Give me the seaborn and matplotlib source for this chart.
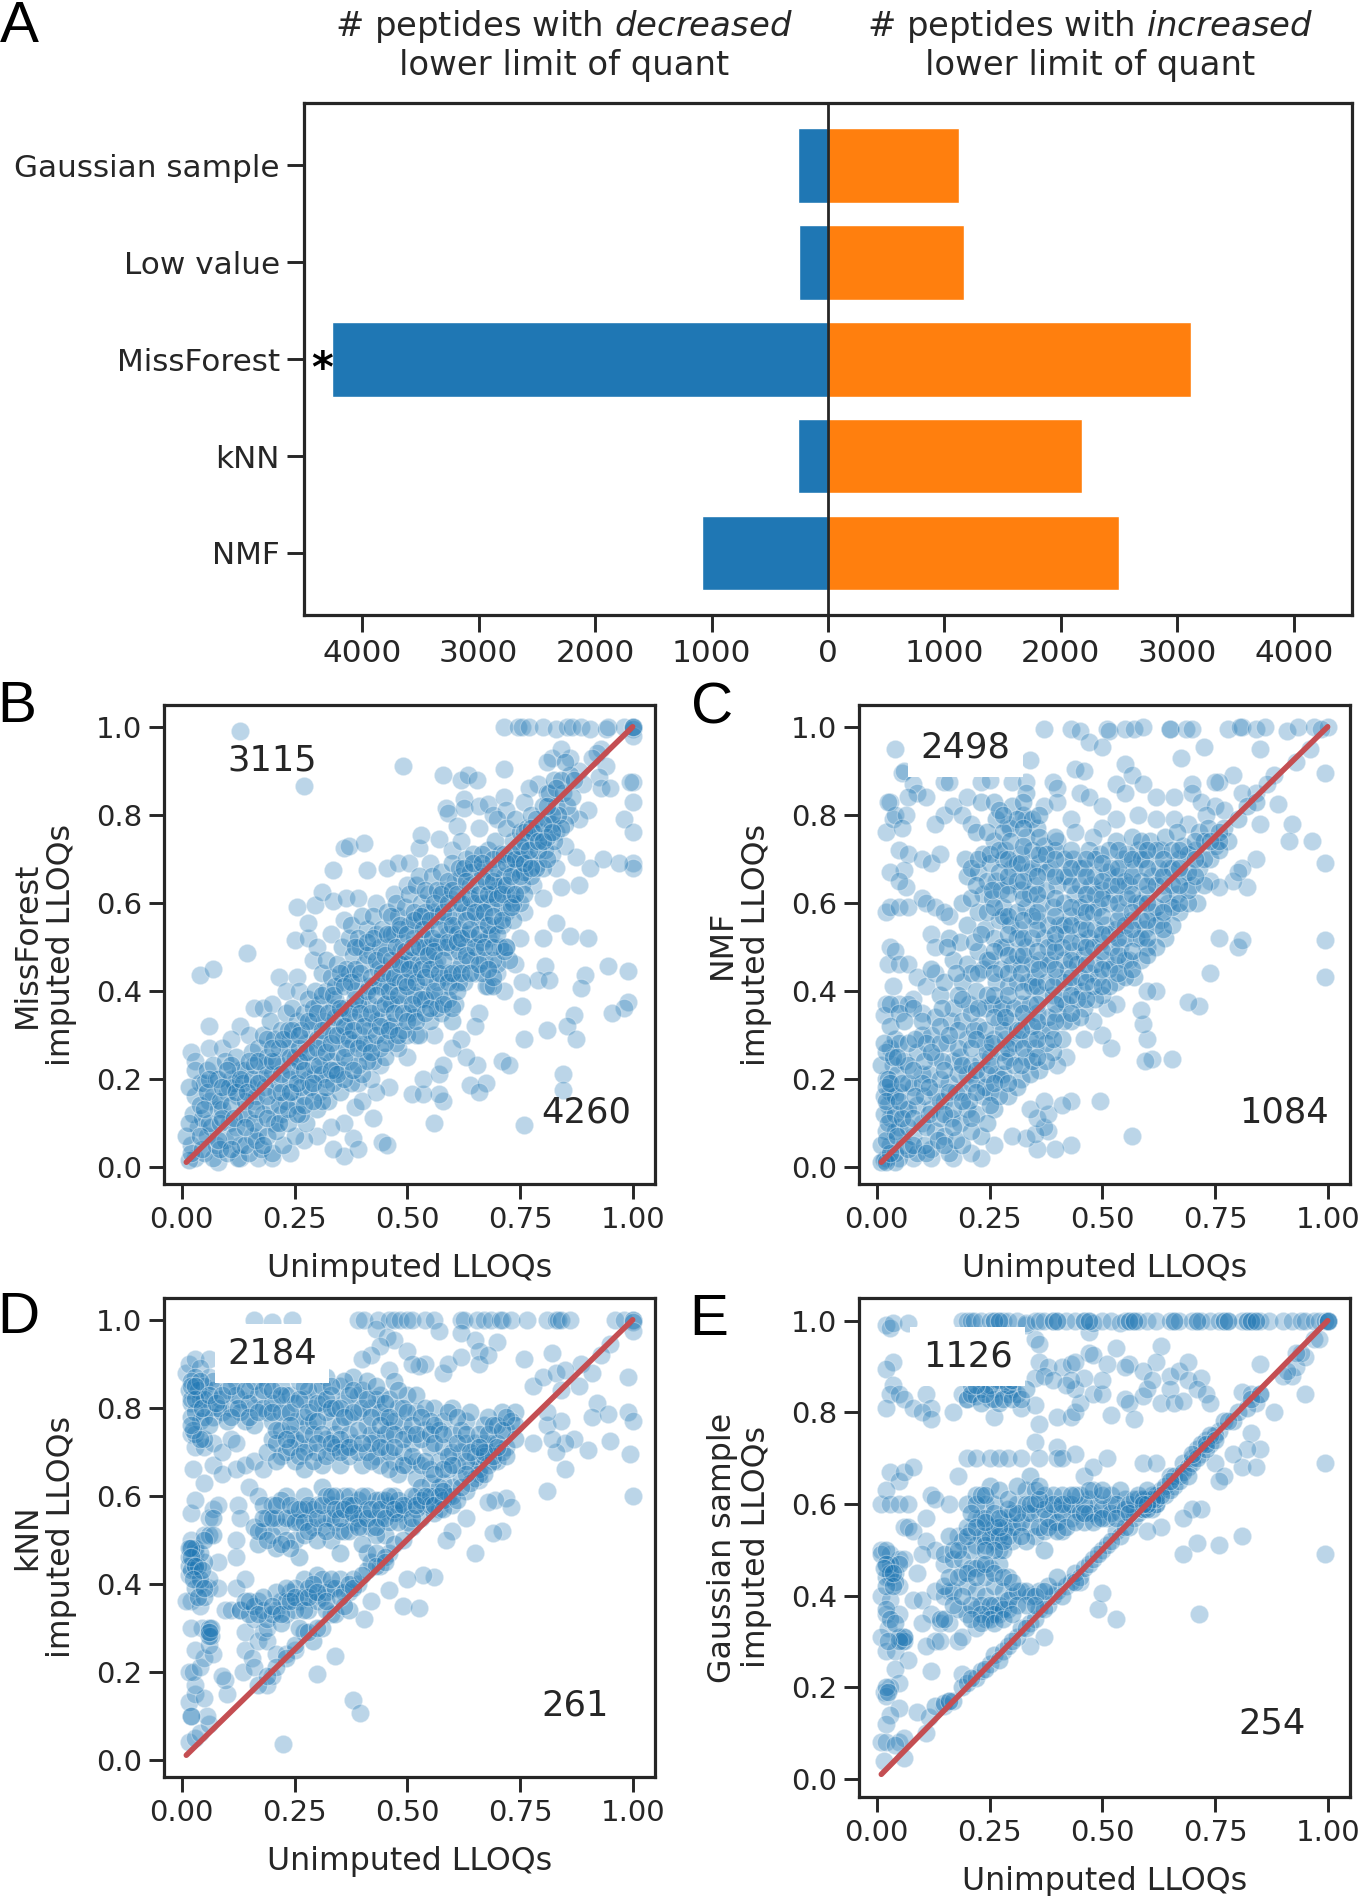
import seaborn as sns
import matplotlib.pyplot as plt

sns.set_style('ticks')
plt.rcParams['font.family'] = ['DejaVu Sans']
plt.rcParams['mathtext.fontset'] = 'dejavusans'
plt.rcParams['text.color'] = '.15'
plt.rcParams['axes.labelcolor'] = '.15'

W, H = 1359, 1896

# Panel A
methods = ['Gaussian sample', 'Low value', 'MissForest', 'kNN', 'NMF']
decreased = [254, 245, 4260, 261, 1084]
increased = [1126, 1170, 3115, 2184, 2498]
a_ticks = [-4000, -3000, -2000, -1000, 0, 1000, 2000, 3000, 4000]
a_ticklabels = ['4000', '3000', '2000', '1000', '0', '1000', '2000', '3000', '4000']

# Scatter panels: x,y pairs.
top_b = [.715,1, .745,1, .755,1, .77,1, .80,1, .83,.995, .855,1, .865,1, .885,1, .905,.995, .94,.995, .945,1, .98,1, 1,1, 1,.995, 1,.98, 1,1, 1,1]
b_sparse = [.13,.99, .27,.865, .49,.91, .58,.89, .62,.88, .635,.89, .655,.88, .715,.905, 1,.875, .995,.875, 1,.83, .98,.79, 1,.76, 1,.69, 1,.68, .97,.69, .935,.70, .905,.68, .875,.705, .88,.64, .84,.635, .83,.555, .8,.52, .86,.525, .9,.52, .945,.455, .99,.445, .895,.435, .885,.405, .805,.455, .79,.425, .815,.425, .755,.42, .715,.40, .755,.365, .87,.345, .855,.32, .81,.31, .875,.29, .76,.29, .99,.375, .98,.36, .955,.35, .845,.21, .845,.175, .76,.095, .56,.10, .58,.15, .57,.165, .51,.165, .535,.165, .46,.18, .535,.20, .57,.21, .64,.185, .675,.19, .66,.17, .655,.23, .71,.24, .725,.23,
    .425,.11, .445,.055, .455,.05, .38,.065, .36,.025, .39,.04, .335,.04, .385,.135, .40,.15, .43,.17, .04,.435, .07,.45, .145,.485, .06,.32, .13,.32, .16,.36, .215,.43, .255,.43, .25,.515, .28,.52, .28,.555, .255,.59, .295,.595, .31,.625, .335,.605, .365,.61, .39,.61, .335,.675, .36,.725, .37,.73, .405,.735, .41,.675, .455,.68, .48,.69, .505,.69, .525,.725, .53,.755, .57,.745, .585,.815, .59,.805, .61,.775, .625,.835, .625,.815, .66,.82, .68,.825, .69,.80, .715,.84, .72,.81,
    .93,.95, .92,.94, .94,.91, .925,.885, .93,.86, .95,.86, .91,.93, .89,.87, .88,.90, .86,.93, .82,.93, .84,.95, .81,.92, .79,.87, .77,.86, .81,.85, .76,.83, .9,.81, .88,.79, .86,.8, .83,.76, .85,.73, .82,.71, .79,.69, .83,.68, .78,.64, .8,.61, .76,.58, .73,.61, .75,.52, .72,.5, .74,.46, .7,.44, .68,.41, .66,.35, .65,.32, .62,.29, .6,.27, .63,.25, .58,.23, .56,.3, .52,.3, .5,.25, .48,.27, .44,.23, .42,.2, .39,.19, .36,.1, .33,.09, .3,.07, .27,.06, .24,.03, .2,.02, .17,.02, .13,.02, .08,.01,
    .02,.26, .03,.24, .06,.27, .09,.27, .11,.29, .15,.3, .18,.36, .2,.37, .23,.4, .26,.4, .29,.47, .3,.5, .33,.53, .36,.56, .43,.6, .47,.62, .5,.64, .55,.69, .6,.72, .62,.74, .66,.77, .7,.79]
b_dense = [.03,.02, .02,.05, .035,.09, .025,.12, .03,.16, .04,.19, .03,.22, .05,.03, .055,.07, .045,.11, .06,.15, .05,.19, .055,.22,
    .07,.02, .075,.05, .065,.09, .08,.13, .07,.16, .075,.2, .07,.23, .10,.03, .095,.06, .105,.1, .09,.13, .1,.17, .11,.2, .095,.24,
    .125,.02, .13,.05, .12,.09, .135,.12, .125,.16, .115,.19, .13,.22, .12,.25, .15,.03, .155,.07, .145,.11, .16,.15, .15,.18, .14,.22, .155,.26,
    .175,.04, .17,.08, .18,.12, .165,.16, .175,.2, .185,.23, .17,.27, .18,.3, .2,.03, .205,.1, .195,.14, .21,.17, .2,.21, .19,.25, .205,.29, .195,.33,
    .225,.05, .22,.12, .23,.15, .215,.19, .225,.23, .235,.27, .22,.31, .23,.35, .25,.07, .255,.14, .245,.17, .26,.21, .25,.25, .24,.29, .255,.33, .245,.36,
    .275,.1, .27,.16, .28,.2, .265,.24, .275,.28, .285,.31, .27,.35, .28,.38, .3,.13, .305,.17, .295,.21, .31,.25, .3,.29, .29,.33, .305,.37, .295,.4, .31,.44,
    .325,.15, .32,.2, .33,.24, .315,.28, .325,.32, .335,.36, .32,.4, .33,.43, .32,.47, .35,.17, .355,.22, .345,.26, .36,.3, .35,.34, .34,.38, .355,.42, .345,.46, .355,.5,
    .375,.19, .37,.24, .38,.28, .365,.32, .375,.36, .385,.4, .37,.44, .38,.48, .37,.52, .375,.55, .4,.21, .405,.26, .395,.3, .41,.34, .4,.38, .39,.42, .405,.46, .395,.5, .41,.54, .4,.57,
    .425,.24, .42,.28, .43,.33, .415,.37, .425,.41, .435,.45, .42,.49, .43,.53, .425,.57, .45,.25, .455,.3, .445,.34, .46,.38, .45,.42, .44,.46, .455,.5, .445,.54, .455,.58,
    .475,.28, .47,.33, .48,.37, .465,.41, .475,.45, .485,.49, .47,.53, .48,.57, .475,.6, .5,.3, .505,.35, .495,.39, .51,.43, .5,.47, .49,.51, .505,.55, .495,.59, .505,.62,
    .525,.3, .52,.36, .53,.4, .515,.44, .525,.48, .535,.52, .52,.56, .53,.6, .52,.64, .525,.66, .55,.33, .555,.38, .545,.42, .56,.46, .55,.5, .54,.54, .555,.58, .545,.62, .555,.66,
    .575,.35, .57,.39, .58,.43, .565,.47, .575,.51, .585,.55, .57,.59, .58,.63, .575,.67, .6,.33, .605,.37, .595,.41, .61,.45, .6,.49, .59,.53, .605,.57, .595,.61, .605,.65, .6,.69,
    .625,.42, .62,.46, .63,.5, .615,.54, .625,.58, .635,.62, .62,.66, .63,.7, .65,.44, .655,.48, .645,.52, .66,.56, .65,.6, .64,.64, .655,.68, .645,.71,
    .675,.41, .67,.47, .68,.52, .665,.56, .675,.6, .685,.64, .67,.68, .68,.72, .7,.46, .705,.5, .695,.55, .71,.59, .7,.63, .69,.67, .705,.71, .695,.74,
    .725,.47, .72,.58, .73,.62, .715,.66, .725,.7, .735,.74, .72,.77, .75,.6, .755,.64, .745,.68, .76,.72, .75,.76, .74,.79,
    .775,.66, .77,.7, .78,.74, .765,.77, .775,.8, .8,.68, .805,.72, .795,.76, .81,.79, .8,.82, .825,.74, .82,.78, .83,.82, .815,.85, .825,.88, .85,.78, .855,.82, .845,.85, .86,.89, .85,.92]
b_fill = [.015,.015, .02,.03, .01,.07, .015,.1, .045,.04, .04,.14, .015,.18, .06,.1, .055,.17, .085,.04, .085,.1, .085,.15, .08,.2, .115,.07, .11,.14, .105,.18, .11,.23, .14,.05, .14,.15, .135,.19, .165,.06, .16,.1, .155,.2, .16,.23, .19,.07, .185,.18, .19,.21, .19,.29, .21,.08, .215,.14, .21,.24, .215,.27, .235,.1, .24,.2, .24,.25, .235,.31, .265,.12, .265,.18, .26,.27, .265,.31, .285,.18, .29,.23, .285,.26, .29,.36,
    .31,.15, .31,.21, .315,.33, .31,.39, .335,.19, .34,.22, .335,.3, .34,.34, .34,.41, .36,.2, .365,.27, .36,.36, .365,.45, .39,.23, .385,.33, .39,.37, .385,.45, .39,.52, .41,.24, .415,.31, .415,.41, .41,.48, .44,.27, .44,.36, .44,.41, .44,.5, .465,.32, .465,.37, .46,.44, .465,.53, .465,.57, .49,.31, .485,.42, .49,.46, .485,.54, .515,.34, .515,.39, .51,.47, .515,.52, .515,.58, .54,.38, .535,.46, .54,.5, .54,.58, .54,.63, .565,.36, .565,.42, .565,.51, .565,.57, .565,.63,
    .59,.38, .59,.44, .585,.5, .59,.57, .59,.65, .615,.42, .615,.49, .61,.53, .615,.6, .615,.68, .64,.47, .635,.53, .64,.58, .64,.67, .665,.44, .665,.51, .665,.6, .665,.66, .665,.71, .69,.47, .685,.53, .685,.59, .69,.62, .69,.7, .715,.49, .71,.55, .71,.64, .715,.71, .735,.56, .735,.6, .735,.67, .735,.71, .76,.62, .76,.67, .76,.76, .785,.68, .79,.72, .785,.79, .81,.75, .81,.7, .835,.8, .84,.77, .84,.88, .865,.84, .87,.88, .69,.41, .69,.43, .75,.7, .775,.77, .82,.8, .83,.86]
b_core = [.04,.07, .05,.13, .06,.2, .08,.06, .09,.11, .09,.18, .1,.22, .11,.04, .115,.11, .12,.17, .13,.2, .14,.09, .145,.17, .15,.24, .165,.13, .17,.19, .17,.24, .18,.05, .19,.11, .19,.16, .2,.24, .2,.27, .215,.1, .22,.17, .22,.21, .225,.29, .235,.13, .24,.17, .24,.22, .245,.31, .255,.12, .255,.19, .26,.24, .26,.3, .27,.14, .27,.22, .275,.26, .28,.33, .29,.15, .29,.19, .3,.27, .3,.35, .305,.23, .31,.31, .32,.18, .32,.26, .325,.35, .33,.22, .33,.28, .335,.39, .345,.21, .345,.3, .35,.36, .35,.44,
    .36,.25, .36,.32, .36,.41, .37,.29, .37,.35, .375,.42, .38,.22, .38,.31, .385,.38, .385,.5, .39,.27, .395,.35, .395,.44, .405,.28, .405,.32, .41,.4, .41,.51, .42,.26, .42,.35, .42,.43, .425,.52, .43,.3, .43,.39, .43,.47, .44,.32, .445,.44, .45,.28, .45,.37, .45,.48, .455,.53, .46,.31, .46,.4, .465,.47, .47,.35, .47,.43, .475,.5, .48,.3, .48,.39, .485,.46, .485,.55, .49,.35, .495,.42, .495,.49, .5,.33, .5,.41, .5,.53, .505,.45, .51,.37, .51,.5, .515,.56, .52,.33, .52,.42, .525,.5, .53,.38, .53,.45, .53,.57, .535,.54, .54,.35, .54,.43, .545,.48, .55,.36, .55,.45, .55,.56, .555,.52, .56,.4, .56,.49, .56,.6, .57,.44, .57,.54, .575,.62, .58,.37, .58,.47, .58,.58,
    .59,.42, .59,.51, .59,.6, .6,.36, .6,.44, .6,.55, .6,.63, .61,.4, .61,.51, .61,.62, .62,.44, .62,.52, .62,.6, .625,.68, .63,.48, .63,.56, .63,.65, .64,.44, .64,.54, .64,.61, .645,.69, .65,.5, .65,.58, .655,.64, .66,.46, .66,.53, .66,.62, .665,.69, .67,.5, .67,.58, .675,.65, .68,.45, .68,.55, .68,.62, .69,.5, .69,.57, .69,.65, .7,.53, .7,.61, .7,.68, .71,.56, .71,.62, .72,.5, .72,.64, .72,.69, .73,.59, .73,.66, .74,.62, .74,.7, .75,.66, .75,.73, .76,.69, .76,.74, .77,.72, .775,.68, .78,.76, .79,.74, .8,.78, .8,.74, .81,.82, .82,.76]

c_sparse = [.04,.95, .055,.895, .37,.995, .43,.995, .45,.99, .47,.965, .51,.995, .515,.99, .55,.995, .57,.995, .59,1, .65,.995, .65,.995, .685,.995, .7,.995, .78,.995, .81,1, .805,1, .84,.995, .86,1, .91,.99, .935,1, .97,1, 1,1, .985,.995, .5,.955, .34,.925, .675,.93, .725,.955, .85,.95, .96,.95, .93,.92, .44,.905, .46,.90, .55,.915, .565,.89, .84,.85, .79,.89,
    .76,.875, .75,.875, .88,.89, .865,.87, .81,.85, .89,.825, .85,.78, .92,.78, .915,.74, .965,.74, .995,.69, .84,.70, .82,.635, .81,.68, .79,.65, .74,.65, .76,.635, .8,.67, .995,.895, .995,.515, .995,.43, .80,.50, .81,.515, .76,.52, .74,.44, .715,.365, .69,.375, .62,.40, .6,.4, .655,.245, .61,.245, .595,.24, .6,.29, .59,.325, .585,.355, .495,.15, .565,.07, .43,.15, .43,.05, .395,.04, .355,.04, .33,.065, .3,.07, .38,.08, .35,.075, .37,.09, .355,.11, .38,.12, .41,.14, .34,.13, .37,.15,
    .52,.27, .46,.29, .5,.3, .48,.33, .51,.36, .53,.37, .42,.25, .40,.23, .26,.05, .23,.02, .21,.03, .17,.02, .12,.02, .08,.02, .025,.46, .03,.5, .04,.49, .02,.37, .015,.345, .035,.41, .02,.58, .03,.59, .05,.59, .065,.635, .07,.59, .02,.76, .03,.83, .035,.79, .04,.8, .025,.83, .06,.9, .08,.87, .09,.85, .11,.84, .07,.84, .065,.8, .055,.77, .05,.72, .07,.71, .10,.70, .12,.69, .14,.71, .06,.675, .03,.67, .05,.65, .1,.61, .11,.6, .13,.59, .16,.57, .12,.53, .13,.5, .15,.58, .05,.46, .07,.46, .09,.43, .11,.41, .13,.44, .08,.38, .1,.35, .05,.37, .07,.37,
    .15,.875, .16,.875, .23,.875, .25,.88, .3,.875, .33,.875, .39,.875, .4,.86, .15,.8, .13,.78, .17,.82, .2,.84, .19,.8, .21,.78, .37,.82, .4,.83, .43,.79, .45,.85, .47,.84, .5,.82, .53,.87, .55,.85, .59,.87, .62,.84, .66,.84, .7,.87, .7,.85, .72,.83, .69,.78, .66,.79, .75,.82, .77,.81, .73,.8, .62,.79, .58,.8, .53,.79, .5,.77, .48,.75, .44,.76, .4,.74, .33,.79, .29,.78]
c_dense = [.02,.02, .03,.05, .02,.08, .03,.11, .025,.14, .03,.17, .02,.2, .035,.23, .03,.27, .04,.29, .05,.02, .06,.05, .05,.09, .06,.13, .05,.17, .045,.21, .06,.24, .05,.28, .03,.37, .05,.35, .09,.03, .08,.07, .1,.1, .09,.14, .08,.18, .1,.21, .09,.26, .1,.3, .08,.36, .12,.04, .13,.08, .12,.13, .13,.17, .115,.21, .13,.25, .12,.3, .13,.34, .14,.39, .12,.45,
    .16,.03, .15,.07, .165,.11, .15,.15, .16,.19, .17,.24, .155,.28, .165,.33, .17,.36, .15,.42, .17,.47, .16,.52, .19,.05, .185,.1, .2,.13, .19,.17, .2,.21, .185,.25, .2,.29, .19,.33, .205,.37, .19,.42, .2,.46, .185,.51, .2,.55, .19,.6, .2,.66, .195,.7,
    .23,.07, .22,.12, .235,.16, .22,.2, .23,.24, .24,.28, .225,.32, .24,.36, .22,.4, .235,.45, .225,.49, .24,.54, .225,.58, .235,.62, .225,.67, .235,.71, .22,.76, .23,.83, .26,.13, .25,.17, .265,.21, .25,.25, .26,.29, .27,.33, .255,.37, .265,.42, .25,.47, .26,.52, .27,.56, .255,.61, .265,.65, .25,.69, .26,.74, .265,.79, .26,.83,
    .29,.16, .28,.21, .295,.25, .285,.29, .295,.33, .28,.37, .29,.41, .3,.46, .285,.5, .295,.55, .28,.59, .29,.64, .3,.68, .285,.72, .295,.77, .3,.82, .32,.2, .33,.25, .315,.29, .33,.33, .32,.37, .335,.42, .32,.46, .33,.5, .315,.54, .33,.59, .32,.63, .335,.67, .32,.71, .33,.75, .325,.8, .33,.85,
    .36,.22, .35,.27, .365,.31, .355,.35, .365,.39, .35,.43, .36,.47, .37,.52, .355,.56, .365,.6, .35,.64, .36,.69, .37,.73, .355,.77, .39,.26, .385,.31, .4,.35, .39,.39, .4,.43, .385,.47, .395,.51, .405,.55, .39,.59, .4,.64, .385,.68, .395,.72,
    .43,.33, .42,.37, .435,.41, .425,.45, .435,.49, .42,.53, .43,.57, .44,.62, .425,.66, .435,.7, .46,.36, .455,.4, .47,.44, .46,.48, .47,.52, .455,.56, .465,.6, .475,.64, .46,.68, .47,.72, .5,.39, .49,.43, .505,.47, .495,.51, .505,.55, .49,.59, .5,.63, .51,.67, .495,.71,
    .53,.42, .525,.46, .54,.5, .53,.54, .54,.58, .525,.62, .535,.66, .545,.7, .53,.74, .57,.43, .56,.47, .575,.52, .565,.56, .575,.6, .56,.64, .57,.68, .58,.72, .565,.75, .6,.5, .595,.54, .61,.58, .6,.62, .61,.66, .595,.7, .605,.74,
    .64,.52, .63,.56, .645,.6, .635,.64, .645,.68, .63,.72, .64,.75, .67,.58, .665,.62, .68,.66, .67,.7, .68,.73, .665,.76, .71,.6, .7,.64, .715,.68, .705,.72, .715,.76, .74,.7, .75,.73, .735,.77, .77,.77, .78,.74]
c_fill = [.015,.015, .01,.05, .015,.12, .015,.16, .01,.23, .02,.26, .04,.03, .04,.08, .04,.12, .04,.16, .025,.2, .02,.18, .07,.04, .07,.09, .07,.13, .07,.19, .07,.23, .07,.28, .03,.32, .06,.33, .105,.05, .11,.09, .105,.16, .1,.19, .105,.24, .11,.28, .1,.33, .135,.06, .14,.11, .14,.15, .14,.2, .145,.24, .14,.28, .14,.32, .145,.36, .175,.06, .17,.13, .175,.17, .18,.21, .18,.27, .18,.31, .18,.39, .21,.08, .205,.15, .21,.19, .21,.23, .21,.27, .215,.31, .21,.35, .21,.44, .215,.51, .21,.61, .21,.68,
    .245,.1, .24,.18, .245,.21, .245,.26, .24,.31, .245,.39, .245,.47, .245,.58, .245,.65, .245,.76, .27,.16, .275,.2, .275,.26, .28,.31, .275,.36, .275,.45, .275,.5, .28,.57, .275,.63, .28,.7, .28,.76, .31,.18, .305,.23, .305,.28, .31,.31, .305,.36, .31,.42, .31,.48, .31,.52, .31,.58, .31,.65, .31,.69, .31,.79, .34,.21, .345,.24, .34,.29, .345,.32, .34,.37, .345,.41, .345,.46, .345,.52, .345,.57, .34,.62, .345,.68, .345,.72, .345,.79,
    .375,.24, .375,.28, .38,.34, .375,.42, .38,.46, .38,.5, .38,.55, .375,.63, .375,.67, .375,.71, .41,.29, .415,.33, .41,.38, .415,.42, .415,.47, .41,.5, .415,.55, .415,.6, .415,.66, .415,.7, .45,.34, .445,.38, .45,.43, .445,.46, .45,.51, .45,.54, .45,.59, .45,.64, .45,.68, .485,.38, .48,.41, .485,.46, .48,.5, .485,.54, .48,.58, .485,.62, .485,.66, .485,.7, .515,.41, .515,.45, .52,.5, .515,.53, .515,.6, .52,.64, .52,.68, .515,.72, .55,.43, .55,.47, .55,.52, .55,.55, .555,.61, .55,.65, .555,.71,
    .585,.47, .585,.52, .585,.56, .585,.6, .585,.65, .585,.7, .585,.74, .62,.5, .62,.55, .62,.59, .62,.64, .625,.68, .62,.72, .655,.55, .655,.59, .655,.64, .655,.68, .655,.72, .69,.6, .69,.63, .69,.67, .69,.71, .725,.64, .725,.7, .725,.74, .76,.72, .76,.76, .8,.79, .82,.82, .84,.83, .04,.01, .01,.01, .02,.01, .03,.03]
c_core = [.02,.06, .025,.1, .02,.15, .03,.19, .035,.25, .015,.28, .045,.07, .055,.11, .05,.15, .055,.19, .045,.25, .08,.05, .08,.11, .085,.16, .08,.22, .085,.29, .11,.03, .115,.12, .115,.18, .12,.26, .15,.05, .15,.12, .16,.17, .15,.22, .16,.3, .17,.09, .19,.15, .19,.23, .19,.38, .175,.44, .155,.5, .21,.11, .22,.17, .22,.22, .22,.29, .225,.36, .225,.44, .23,.53, .22,.64, .225,.7, .25,.14, .26,.19, .25,.23, .255,.28, .26,.34, .26,.39, .26,.44, .26,.49, .26,.59, .255,.63, .25,.71, .27,.67, .27,.72, .27,.81,
    .29,.19, .285,.24, .29,.27, .285,.34, .29,.39, .29,.44, .29,.48, .29,.53, .29,.57, .29,.62, .29,.66, .29,.7, .295,.74, .28,.8, .32,.23, .325,.27, .32,.31, .325,.35, .325,.4, .32,.44, .325,.48, .325,.52, .325,.56, .325,.61, .325,.65, .32,.69, .325,.73, .325,.77, .325,.83, .355,.25, .355,.29, .355,.33, .355,.37, .355,.41, .36,.45, .355,.49, .355,.54, .355,.58, .355,.62, .355,.66, .36,.71, .36,.75, .36,.8, .39,.29, .395,.33, .395,.37, .39,.41, .395,.45, .395,.49, .395,.53, .395,.57, .395,.61, .395,.66, .395,.7, .395,.75,
    .43,.35, .43,.39, .43,.43, .43,.47, .43,.51, .43,.55, .43,.59, .43,.64, .43,.68, .43,.72, .465,.38, .465,.42, .465,.46, .465,.5, .465,.54, .465,.58, .465,.62, .465,.66, .465,.7, .5,.41, .5,.45, .5,.49, .5,.53, .5,.57, .5,.61, .5,.65, .5,.69, .535,.44, .535,.48, .535,.52, .535,.56, .535,.6, .535,.64, .535,.68, .535,.72, .565,.45, .565,.49, .565,.54, .565,.58, .565,.62, .565,.66, .565,.7, .6,.48, .6,.52, .6,.56, .6,.6, .6,.64, .6,.68, .6,.72, .635,.54, .635,.58, .635,.62, .635,.66, .635,.7, .67,.6, .67,.64, .67,.68, .67,.72, .705,.66, .705,.7, .705,.74, .74,.74, .76,.74]

d_sparse = [.16,1, .2,.995, .245,1, .39,1, .405,1, .435,1, .46,1, .47,1, .485,1, .5,1, .51,1, .54,1, .56,1, .62,1, .625,1, .655,1, .67,1, .685,1, .705,1, .71,1, .73,1, .765,1, .81,1, .83,1, .835,1, .84,1, .86,1, .96,1, .98,1, 1,1, 1,1, 1,.995, 1,.975, .43,.98, .455,.96, .47,.955, .57,.975, .62,.97, .65,.955, .70,.95, .66,.93, .50,.93, .54,.9, .525,.895, .44,.94, .42,.92, .40,.91, .46,.885, .51,.9, .58,.88, .59,.9, .62,.915, .66,.9, .68,.92, .76,.91, .82,.925, .95,.945, .93,.92, .885,.9, .91,.88, .99,.87, .88,.85, .99,.79, 1,.77, .92,.81, .91,.78, .945,.785, .95,.725, .9,.705, .995,.695, .87,.73, .85,.66, .81,.61, 1,.6, .72,.595, .695,.59, .68,.585, .73,.575, .66,.635, .63,.55, .60,.52, .585,.5, .71,.52, .69,.515, .65,.47, .56,.415, .535,.42, .5,.41, .49,.35, .525,.345, .46,.385, .42,.36, .405,.32, .34,.235, .30,.195, .38,.135, .395,.105, .225,.035,
    .78,.85, .8,.87, .83,.88, .85,.885, .84,.84, .81,.76, .84,.77, .85,.72, .83,.7, .82,.73, .78,.72, .81,.79, .015,.04, .03,.05, .04,.06, .06,.08, .055,.1, .02,.1, .015,.13, .03,.15, .05,.14, .1,.15, .095,.18, .09,.19, .03,.17, .015,.2, .025,.2, .04,.21, .05,.23, .07,.24, .03,.25, .06,.26, .045,.3, .06,.29, .02,.3, .02,.36, .01,.36, .04,.35, .06,.39, .08,.39, .095,.34, .015,.42, .04,.4, .06,.41, .08,.45, .12,.46, .02,.5, .03,.47, .05,.51, .06,.55, .07,.57, .08,.58, .02,.56, .03,.59, .025,.66, .05,.63, .07,.67, .09,.65, .12,.66, .125,.58, .13,.55, .12,.5, .135,.2, .14,.25, .155,.23, .16,.21, .19,.17, .2,.19, .14,.29, .17,.27, .18,.29, .19,.27,
    .21,.24, .23,.24, .25,.25, .02,.74, .03,.71, .05,.71, .07,.72, .09,.7, .11,.73, .12,.72, .14,.67, .15,.62, .17,.6, .16,.68, .18,.66, .12,.39, .14,.41, .11,.34, .13,.34, .16,.32, .19,.3, .01,.88, .015,.9, .03,.91, .06,.91, .04,.89, .06,.87]
d_dense = [.015,.84, .03,.87, .05,.85, .07,.84, .02,.81, .04,.82, .06,.8, .085,.82, .02,.78, .04,.77, .07,.78, .03,.74, .05,.73, .09,.79, .11,.8, .13,.82, .12,.86, .14,.77, .16,.8, .15,.84, .18,.87, .17,.83, .19,.79, .21,.82, .2,.77, .22,.85, .24,.83, .23,.79, .26,.86, .27,.82, .25,.77, .29,.8, .3,.84, .28,.76, .32,.87, .31,.81, .33,.77, .35,.85, .36,.81, .34,.74, .38,.87, .39,.83, .37,.78, .4,.84, .42,.8, .41,.76, .44,.83, .45,.78, .43,.73, .47,.86, .48,.8, .46,.75, .5,.83, .49,.76, .52,.79, .51,.72, .54,.75, .56,.8, .55,.71, .58,.77, .57,.68, .6,.74, .6,.8, .62,.7, .63,.77, .65,.72, .67,.76, .66,.68, .69,.72, .71,.79, .72,.75, .7,.68, .74,.79,
    .2,.73, .22,.69, .24,.74, .26,.72, .25,.68, .28,.71, .31,.67, .33,.7, .36,.71, .38,.72, .4,.67, .43,.69, .47,.68, .45,.71, .5,.67, .52,.64, .55,.63, .58,.63, .6,.62, .62,.64, .64,.66, .61,.67, .68,.7, .66,.65,
    .17,.49, .19,.55, .2,.58, .22,.53, .21,.48, .23,.6, .24,.55, .25,.5, .26,.46, .27,.6, .28,.55, .27,.51, .3,.58, .31,.62, .31,.53, .33,.58, .34,.54, .33,.5, .36,.6, .37,.56, .36,.52, .35,.47, .39,.59, .38,.54, .4,.56, .41,.6, .42,.53, .44,.59, .43,.55, .45,.51, .46,.58, .48,.56, .47,.6, .5,.58, .5,.54, .52,.6, .54,.58, .53,.62, .56,.6, .57,.57, .59,.6, .42,.45, .44,.44, .46,.47,
    .13,.34, .15,.33, .17,.36, .19,.32, .21,.34, .22,.36, .24,.38, .23,.33, .26,.36, .27,.41, .29,.38, .3,.42, .28,.34, .31,.37, .33,.39, .35,.41, .33,.33, .37,.38, .39,.4, .27,.29, .29,.27, .31,.3, .25,.26, .23,.23, .21,.21, .17,.17, .34,.33, .37,.34, .41,.43, .47,.49, .51,.53, .53,.55, .56,.56, .6,.58, .63,.61, .66,.66,
    .02,.48, .025,.45, .03,.43, .05,.45, .03,.39, .05,.37, .06,.3, .065,.28, .06,.51, .07,.55, .02,.1, .03,.48, .015,.44]
d_fill = [.02,.86, .035,.84, .05,.82, .07,.86, .08,.8, .03,.79, .05,.78, .06,.76, .025,.75, .04,.73, .1,.84, .1,.77, .12,.83, .13,.79, .15,.81, .16,.76, .16,.86, .18,.8, .19,.85, .2,.81, .22,.79, .22,.75, .23,.83, .25,.81, .25,.73, .27,.78, .27,.74, .28,.84, .29,.77, .31,.85, .32,.79, .33,.83, .34,.8, .35,.76, .36,.86, .37,.83, .37,.74, .39,.79, .4,.8, .41,.86, .42,.74, .43,.82, .44,.79, .45,.74, .46,.82, .47,.77, .49,.8, .5,.74, .52,.83, .53,.73, .54,.8, .55,.77, .57,.75, .58,.71, .59,.79, .6,.7, .62,.75, .63,.72, .64,.79, .65,.69, .67,.72, .68,.78, .69,.68, .7,.76, .72,.71, .73,.77, .74,.76,
    .19,.7, .21,.72, .23,.7, .24,.71, .26,.69, .27,.66, .29,.74, .3,.7, .32,.73, .34,.71, .35,.67, .37,.69, .39,.7, .41,.7, .42,.72, .44,.67, .46,.7, .48,.65, .49,.7, .52,.68, .53,.67, .55,.66, .57,.62, .59,.66, .63,.68, .65,.64, .67,.69, .7,.72, .68,.67, .71,.7,
    .16,.53, .18,.52, .18,.58, .2,.51, .21,.55, .22,.59, .23,.5, .24,.48, .25,.57, .26,.54, .27,.57, .29,.57, .29,.53, .3,.5, .32,.55, .32,.6, .33,.55, .34,.6, .35,.57, .35,.52, .37,.6, .37,.52, .38,.58, .39,.55, .4,.53, .41,.57, .43,.59, .43,.51, .44,.55, .45,.59, .46,.54, .47,.56, .48,.59, .49,.57, .51,.6, .52,.57, .53,.59, .55,.6, .55,.58, .58,.59, .6,.6, .57,.6, .41,.47, .4,.49, .43,.47, .45,.46,
    .14,.36, .16,.35, .18,.34, .2,.33, .21,.38, .23,.36, .25,.34, .25,.39, .27,.37, .28,.39, .3,.36, .31,.41, .32,.38, .34,.39, .36,.38, .38,.41, .36,.35, .22,.31, .26,.3, .28,.29, .3,.3, .19,.19, .32,.34, .43,.44, .45,.45, .49,.5, .58,.57, .61,.59, .64,.63, .62,.62, .67,.65, .69,.69, .72,.69, .74,.73,
    .015,.46, .02,.43, .035,.44, .04,.47, .04,.41, .035,.37, .06,.28, .065,.3, .07,.51, .05,.5, .02,.48, .015,.48, .02,.82, .02,.76, .02,.85, .03,.82, .04,.86]
d_core = [.03,.85, .045,.8, .06,.83, .075,.81, .09,.83, .11,.78, .11,.85, .125,.8, .14,.84, .15,.78, .17,.79, .18,.84, .2,.84, .2,.79, .21,.75, .22,.83, .24,.79, .24,.76, .26,.82, .27,.85, .28,.79, .3,.81, .3,.77, .31,.74, .32,.82, .33,.85, .33,.8, .35,.8, .35,.73, .36,.78, .38,.84, .38,.79, .39,.75, .41,.82, .42,.78, .43,.85, .44,.76, .45,.81, .46,.78, .47,.74, .48,.84, .49,.73, .5,.79, .51,.76, .52,.74, .53,.78, .55,.74, .56,.76, .56,.72, .58,.74, .59,.69, .61,.78, .61,.72, .63,.74, .64,.7, .66,.74, .67,.7, .68,.74, .69,.76, .7,.71, .71,.75, .72,.78,
    .21,.68, .23,.73, .27,.7, .29,.68, .3,.72, .32,.69, .33,.72, .35,.7, .37,.71, .4,.72, .42,.68, .44,.71, .46,.66, .47,.71, .49,.67, .51,.69, .54,.68, .56,.65, .58,.66, .6,.67, .63,.65, .66,.71,
    .17,.52, .18,.55, .19,.5, .2,.55, .21,.58, .22,.49, .23,.55, .24,.58, .25,.54, .26,.57, .27,.54, .28,.58, .28,.52, .3,.55, .31,.58, .32,.52, .33,.6, .34,.57, .35,.55, .36,.57, .37,.58, .38,.56, .39,.53, .4,.6, .41,.55, .42,.57, .43,.53, .44,.57, .45,.55, .46,.6, .47,.57, .48,.54, .49,.58, .51,.55, .52,.58, .54,.6, .56,.58, .58,.61,
    .15,.36, .17,.33, .18,.37, .2,.35, .22,.33, .23,.39, .24,.36, .25,.37, .27,.34, .28,.37, .29,.4, .3,.38, .32,.36, .33,.41, .35,.37, .37,.4, .38,.39, .4,.42, .02,.46, .03,.44, .045,.43, .025,.41, .05,.39, .06,.29]

e_top = [.02,.99, .03,.985, .035,.995, .07,.995, .19,1, .2,1, .21,1, .215,1, .23,1, .25,1, .26,1, .27,1, .28,1, .29,1, .31,1, .33,.995, .35,1, .36,1, .37,1, .39,1, .4,1, .42,1, .44,1, .46,1, .47,1, .48,.995, .5,1, .52,1, .54,.995, .55,1, .56,1, .57,1, .58,1, .6,1, .62,1, .65,1, .66,1, .67,1, .7,1, .71,1, .72,1, .74,1, .76,1, .77,1, .78,1, .81,1, .82,1, .83,1, .84,1, .85,1, .87,1, .9,1, .92,1, .94,1, .95,1, .97,1, .98,1, 1,1, .995,1, 1,1, .26,1, .27,1, .39,1, .4,1, .46,1, .47,1, .56,1, .57,1, .66,1, .71,1, .77,1, .78,1, .82,1, .83,1, .84,1, 1,1, 1,1]
e_sparse = [.35,.96, .47,.975, .33,.99, .36,.95, .47,.93, .48,.925, .53,.94, .63,.945, .62,.91, .51,.905, .56,.905, .55,.9, .36,.91, .38,.9, .41,.9, .43,.905, .44,.91, .59,.89, .65,.88, .67,.89, .69,.91, .85,.905, .92,.88, .93,.9, .95,.92, .94,.93, .97,.96, .035,.91, .02,.895, .035,.86, .03,.84, .05,.84, .02,.81, .06,.83, .08,.81, .11,.84, .12,.81, .1,.8, .12,.785, .17,.8, .19,.84, .2,.83, .26,.79, .32,.81, .35,.815, .36,.775, .35,.735, .4,.725, .4,.79, .43,.79, .44,.8, .45,.82, .44,.85, .46,.875, .43,.87, .42,.86, .35,.875, .37,.88, .39,.87, .48,.84, .5,.84, .5,.87, .52,.795, .55,.83, .56,.82, .57,.785, .59,.835, .6,.85, .61,.87, .63,.82, .65,.85, .66,.82, .68,.825, .69,.87, .72,.875, .71,.85, .73,.84, .74,.82, .81,.845, .83,.84, .85,.84, .95,.84, .9,.88,
    .03,.67, .05,.65, .06,.67, .08,.68, .01,.6, .02,.63, .03,.6, .05,.6, .07,.6, .06,.55, .07,.55, .08,.54, .12,.62, .13,.61, .11,.57, .16,.6, .18,.66, .2,.7, .22,.7, .25,.7, .27,.7, .29,.7, .32,.7, .36,.7, .4,.7, .41,.7, .44,.71, .46,.66, .48,.68, .51,.7, .59,.69, .62,.69, .75,.69, .77,.66, .81,.68, .84,.68, .76,.65, .72,.59, .7,.59, .68,.57, .63,.55, .6,.54, .76,.51, .71,.515, .81,.53, .68,.49, .995,.69, .995,.49, .715,.36, .53,.35, .49,.37, .5,.405, .45,.43, .37,.31, .34,.29, .12,.235, .19,.23, .02,.47, .01,.5, .03,.49, .05,.48, .06,.48, .09,.45, .03,.44, .05,.42, .01,.4, .03,.39, .05,.36, .08,.39, .1,.39, .02,.36, .025,.33, .01,.31, .02,.28, .04,.28, .055,.3, .06,.31, .07,.26, .04,.24, .05,.21, .03,.2, .015,.19, .02,.18, .05,.155, .03,.14, .02,.12, .01,.08, .02,.08, .05,.08, .06,.09, .04,.075, .06,.045, .015,.04, .09,.145, .115,.135, .11,.1, .15,.16, .16,.17,
    .11,.52, .13,.5, .1,.49, .15,.47, .18,.53, .19,.45, .16,.41, .13,.41, .15,.4, .12,.36, .1,.34, .14,.34, .16,.34, .13,.3, .18,.3, .19,.31, .22,.33, .11,.29, .14,.3, .98,.96, .93,.93, .91,.89, .88,.8, .85,.72, .83,.755, .82,.72, .79,.71, .84,.82]
e_dense = [.2,.83, .22,.835, .24,.86, .25,.83, .26,.85, .27,.82, .28,.86, .29,.84, .3,.85, .31,.84, .23,.85, .21,.86, .27,.87, .13,.16, .15,.165, .17,.17, .19,.2, .2,.21, .22,.22, .23,.235, .25,.25, .26,.27, .28,.28, .29,.29, .31,.31, .32,.33, .34,.34, .35,.35, .36,.37, .38,.38, .39,.4, .4,.41, .42,.42, .43,.43, .44,.45, .45,.44, .46,.46, .47,.47, .48,.48, .5,.5, .51,.51, .53,.54, .54,.53, .56,.55, .57,.57, .58,.58, .59,.59, .6,.6, .61,.62, .62,.6, .63,.63, .64,.62, .65,.66, .66,.64, .67,.66, .68,.69, .69,.68, .7,.7, .71,.72, .72,.71, .73,.74, .74,.73, .76,.76, .75,.75, .77,.78, .79,.78, .8,.8, .82,.81, .83,.83, .85,.84,
    .19,.52, .21,.54, .22,.51, .24,.53, .25,.55, .26,.52, .27,.5, .28,.54, .29,.56, .3,.52, .31,.55, .33,.58, .34,.55, .35,.53, .36,.58, .37,.54, .38,.6, .39,.56, .4,.59, .41,.54, .42,.6, .43,.57, .44,.59, .46,.56, .47,.61, .48,.58, .49,.6, .51,.57, .52,.6, .54,.58, .55,.61, .57,.59, .58,.61, .59,.59, .6,.61, .61,.59, .62,.6, .2,.6, .22,.62, .24,.6, .25,.64, .26,.6, .23,.57, .28,.57, .31,.6, .33,.63, .34,.66, .35,.63, .37,.62, .39,.62, .41,.62, .45,.62, .48,.63, .52,.62, .54,.63, .22,.57, .33,.52, .37,.5, .21,.5,
    .15,.49, .17,.48, .19,.48, .21,.46, .23,.47, .25,.46, .27,.47, .29,.44, .2,.42, .22,.41, .24,.4, .26,.42, .28,.41, .3,.4, .32,.41, .34,.4, .36,.41, .38,.42, .4,.44, .22,.37, .23,.38, .25,.36, .24,.35, .27,.36, .29,.37, .2,.36, .18,.37, .17,.41, .15,.42, .14,.35, .15,.35, .04,.45, .02,.44, .03,.47, .05,.31, .06,.3, .01,.49, .02,.5, .04,.43]
e_fill = [.21,.84, .23,.82, .26,.83, .28,.83, .3,.83, .32,.83, .25,.86, .29,.86, .3,.87, .24,.84, .22,.86, .33,.85, .16,.17, .21,.22, .24,.24, .27,.26, .3,.3, .33,.33, .37,.37, .41,.4, .44,.43, .49,.49, .52,.52, .55,.55, .6,.59, .62,.62, .64,.64, .66,.66, .68,.67, .7,.69, .72,.73, .74,.75, .78,.78, .62,.61, .65,.63, .67,.65, .69,.66, .71,.7, .73,.72,
    .2,.55, .23,.53, .24,.51, .25,.53, .26,.55, .27,.53, .28,.5, .29,.53, .3,.55, .32,.56, .33,.6, .34,.58, .36,.55, .38,.57, .4,.56, .41,.58, .43,.6, .45,.58, .46,.6, .47,.58, .49,.57, .5,.59, .52,.58, .53,.6, .55,.59, .56,.6, .57,.61, .59,.61, .61,.61, .63,.62, .22,.6, .24,.57, .26,.58, .21,.58, .23,.62, .35,.6, .37,.59, .39,.6, .44,.62, .5,.62, .28,.52, .27,.55, .3,.58, .26,.5, .24,.5,
    .22,.46, .24,.44, .26,.38, .27,.38, .25,.38, .26,.36, .28,.37, .29,.39, .31,.41, .33,.41, .35,.4, .37,.41, .21,.38, .23,.36, .25,.35, .02,.47, .03,.45, .02,.42, .035,.42, .05,.3, .06,.31, .02,.2, .025,.19, .05,.47]
e_core = [.17,.5, .16,.53, .18,.5, .2,.53, .22,.55, .24,.56, .27,.57, .29,.59, .31,.58, .32,.53, .34,.6, .36,.61, .38,.55, .4,.54, .42,.55, .44,.56, .46,.58, .48,.56, .5,.57, .53,.57, .56,.58, .24,.62, .27,.63, .29,.61, .31,.64, .36,.64, .41,.6, .43,.62, .47,.63, .5,.63, .58,.62, .6,.63, .16,.44, .18,.44, .2,.45, .22,.44, .24,.47, .26,.45, .28,.44, .3,.43, .31,.38, .33,.38, .35,.38, .17,.38, .19,.4, .21,.35, .23,.34, .26,.34, .28,.35, .3,.36, .015,.46, .035,.45, .02,.37, .03,.35, .025,.3, .04,.34, .6,.6, .65,.65, .7,.71, .73,.73, .75,.74, .59,.6]

# (ylabel, light points, dense points, upper count, lower count, white box behind upper count)
scatter_panels = [
    ('MissForest\nimputed LLOQs', top_b + b_sparse, b_dense + b_fill + b_core, [.10, .90, '3115'], [.797, .10, '4260'], False),
    ('NMF\nimputed LLOQs', c_sparse, c_dense + c_fill + c_core, [.097, .93, '2498'], [.804, .10, '1084'], True),
    ('kNN\nimputed LLOQs', d_sparse, d_dense + d_fill + d_core, [.10, .90, '2184'], [.797, .10, '261'], True),
    ('Gaussian sample\nimputed LLOQs', e_sparse + e_top, e_dense + e_fill + e_core, [.102, .90, '1126'], [.801, .10, '254'], True),
]
# left, top, right, bottom of each scatter axes, in pixels
boxes = [(164, 705, 655, 1184), (859, 705, 1350, 1184), (164, 1298, 655, 1777), (859, 1298, 1350, 1797)]


def add_axes(fig, l, t, r, b):
    return fig.add_axes([l / W, 1 - b / H, (r - l) / W, (b - t) / H])


def style(ax):
    for s in ax.spines.values():
        s.set_visible(True)
        s.set_linewidth(2.3)
        s.set_color('.15')
    ax.tick_params(length=11, width=2.1, color='.15', labelcolor='.15')


fig = plt.figure(figsize=(W / 100, H / 100), dpi=100)

# Panel A: bars going both ways from zero
ax = add_axes(fig, 304, 103, 1352, 615)
sns.barplot(x=[-v for v in decreased], y=methods, color='#1f77b4', saturation=1, width=.77, orient='h', ax=ax)
sns.barplot(x=increased, y=methods, color='#ff7f0e', saturation=1, width=.77, orient='h', ax=ax)
ax.axvline(0, color='.15', lw=2)
ax.set_xlim(-4500, 4500)
ax.set_ylim(4.64, -.645)
ax.set_xticks(a_ticks)
ax.set_xticklabels(a_ticklabels)
ax.set_xlabel('')
ax.set_ylabel('')
style(ax)
ax.tick_params(labelsize=22.4, length=12.5, pad=5)
ax.text(-4345, 2.11, '*', fontsize=30, fontweight='bold', color='k', ha='center', va='center')

fig.text(564 / W, 1 - 45 / H, '# peptides with $\\it{decreased}$ \nlower limit of quant', fontsize=24.4, ha='center', va='center', linespacing=1.15)
fig.text(1090 / W, 1 - 45 / H, '# peptides with $\\it{increased}$ \nlower limit of quant', fontsize=24.4, ha='center', va='center', linespacing=1.15)

for (ylabel, sparse, dense, up, low, boxed), box in zip(scatter_panels, boxes):
    ax = add_axes(fig, *box)
    sns.scatterplot(x=sparse[0::2], y=sparse[1::2], s=175, alpha=.3, color='#1f77b4', edgecolor='w', linewidth=.8, ax=ax)
    sns.scatterplot(x=dense[0::2], y=dense[1::2], s=175, alpha=.36, color='#1f77b4', edgecolor='w', linewidth=.8, ax=ax)
    sns.lineplot(x=[.01, 1], y=[.01, 1], color='#C44E52', lw=4, ax=ax)
    ax.set_xlim(-.0395, 1.0495)
    ax.set_ylim(-.0395, 1.0495)
    ax.set_xticks([0, .25, .5, .75, 1])
    ax.set_xticklabels(['0.00', '0.25', '0.50', '0.75', '1.00'])
    ax.set_yticks([0, .2, .4, .6, .8, 1])
    style(ax)
    ax.tick_params(labelsize=21, pad=4.5)
    ax.set_xlabel('Unimputed LLOQs', fontsize=22.8, va='top')
    ax.xaxis.set_label_coords(.5, -69 / (box[3] - box[1]))
    ax.set_ylabel(ylabel, fontsize=22.8, linespacing=1.12)
    ax.yaxis.set_label_coords(-.178, .5)
    bbox = dict(fc='w', ec='none', boxstyle='square,pad=0.35') if boxed else None
    ax.text(up[0], up[1], up[2], fontsize=25.4, zorder=5, bbox=bbox)
    ax.text(low[0], low[1], low[2], fontsize=25.4, zorder=5)

# panel letters, Liberation has the Helvetica look of the original
letters = [('A', 0, 42), ('B', -3, 722), ('C', 691, 724), ('D', -3, 1333), ('E', 689, 1335)]
for t, x, y in letters:
    fig.text(x / W, 1 - y / H, t, fontsize=42, color='k', family='Liberation Sans', va='baseline')

fig.savefig('out.png', dpi=100)
